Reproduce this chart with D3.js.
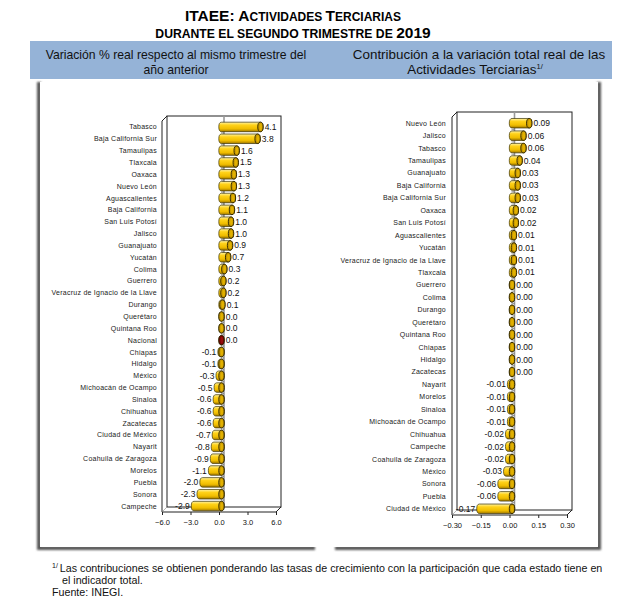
<!DOCTYPE html>
<html><head><meta charset="utf-8">
<script src="https://cdn.jsdelivr.net/npm/d3@7"></script>
<style>body{margin:0;background:#fff}svg{display:block;font-family:"Liberation Sans",Arial,sans-serif}</style>
</head><body><svg id="c" width="637" height="614"></svg>
<script>
const leftCats = ["Tabasco","Baja California Sur","Tamaulipas","Tlaxcala","Oaxaca","Nuevo León","Aguascalientes","Baja California","San Luis Potosí","Jalisco","Guanajuato","Yucatán","Colima","Guerrero","Veracruz de Ignacio de la Llave","Durango","Querétaro","Quintana Roo","Nacional","Chiapas","Hidalgo","México","Michoacán de Ocampo","Sinaloa","Chihuahua","Zacatecas","Ciudad de México","Nayarit","Coahuila de Zaragoza","Morelos","Puebla","Sonora","Campeche"];
const leftVals = [4.1,3.8,1.6,1.5,1.3,1.3,1.2,1.1,1.0,1.0,0.9,0.7,0.3,0.2,0.2,0.1,0.0,0.0,0.0,-0.1,-0.1,-0.3,-0.5,-0.6,-0.6,-0.6,-0.7,-0.8,-0.9,-1.1,-2.0,-2.3,-2.9];
const leftTicks = [-6,-3,0,3,6];

const rightCats = ["Nuevo León","Jalisco","Tabasco","Tamaulipas","Guanajuato","Baja California","Baja California Sur","Oaxaca","San Luis Potosí","Aguascalientes","Yucatán","Veracruz de Ignacio de la Llave","Tlaxcala","Guerrero","Colima","Durango","Querétaro","Quintana Roo","Chiapas","Hidalgo","Zacatecas","Nayarit","Morelos","Sinaloa","Michoacán de Ocampo","Chihuahua","Campeche","Coahuila de Zaragoza","México","Sonora","Puebla","Ciudad de México"];
const rightVals = [0.09,0.06,0.06,0.04,0.03,0.03,0.03,0.02,0.02,0.01,0.01,0.01,0.01,0.00,0.00,0.00,0.00,0.00,0.00,0.00,0.00,-0.01,-0.01,-0.01,-0.01,-0.02,-0.02,-0.02,-0.03,-0.06,-0.06,-0.17];
const rightTicks = [-0.30,-0.15,0.00,0.15,0.30];

const svg = d3.select("#c");
const defs = svg.append("defs");
function grad(id, stops){
  const g = defs.append("linearGradient").attr("id",id).attr("x1",0).attr("y1",0).attr("x2",0).attr("y2",1);
  stops.forEach(s=>g.append("stop").attr("offset",s[0]).attr("stop-color",s[1]));
}
grad("gy",[[0,"#fff4a8"],[0.3,"#ffd21a"],[0.7,"#f0bd00"],[1,"#a07800"]]);
grad("gr",[[0,"#d04040"],[0.4,"#9a0000"],[1,"#500000"]]);
defs.append("filter").attr("id","blur").append("feGaussianBlur").attr("stdDeviation",1.3);

// Title
const t1 = svg.append("text").attr("x",293).attr("y",21).attr("text-anchor","middle").attr("font-weight","bold").attr("fill","#000");
[["ITAEE: A",15.5],["CTIVIDADES ",12],["T",15.5],["ERCIARIAS",12]].forEach(p=>t1.append("tspan").attr("font-size",p[1]).text(p[0]));
const t2 = svg.append("text").attr("x",293).attr("y",38).attr("text-anchor","middle").attr("font-weight","bold").attr("fill","#000");
[["DURANTE EL SEGUNDO TRIMESTRE DE ",12.2],["2019",15.5]].forEach(p=>t2.append("tspan").attr("font-size",p[1]).text(p[0]));

// Header band
svg.append("rect").attr("x",30).attr("y",41).attr("width",582).attr("height",38).attr("fill","#95b3d7");
function ht(x,y,txt,fs){const t=svg.append("text").attr("x",x).attr("y",y).attr("font-size",fs).attr("fill","#111").attr("text-anchor","middle");t.text(txt);return t;}
ht(176,59,"Variación % real respecto al mismo trimestre del",12.2);
ht(176,74,"año anterior",12.2);
ht(479,59,"Contribución a la variación total real de las",13.4);
const h4 = ht(475,74,"Actividades Terciarias",13.4);
h4.append("tspan").attr("font-size",7.5).attr("dy",-5).text("1/");

// Panels with shadows
function panel(x,y,w,h,side){
  const sh = svg.append("g").attr("filter","url(#blur)");
  if(side==="left"){
    sh.append("rect").attr("x",x-3).attr("y",y).attr("width",4).attr("height",h+3).attr("fill","#555");
    sh.append("rect").attr("x",x-3).attr("y",y+h-1).attr("width",w).attr("height",4).attr("fill","#555");
  } else {
    sh.append("rect").attr("x",x+w-1).attr("y",y).attr("width",4).attr("height",h+3).attr("fill","#555");
    sh.append("rect").attr("x",x+3).attr("y",y+h-1).attr("width",w).attr("height",4).attr("fill","#555");
  }
  svg.append("rect").attr("x",x).attr("y",y).attr("width",w).attr("height",h).attr("fill","#fff");
}
panel(40,82,278,465,"left");
panel(332,82,266,465,"right");

function chart(cfg){
  const g = svg.append("g");
  const d = cfg.depth;
  const x = d3.scaleLinear().domain(cfg.domain).range(cfg.xr);
  const y = d3.scaleBand().domain(cfg.cats).range(cfg.yr).paddingInner(0).paddingOuter(0);
  const [x0,x1] = cfg.xr; const top = cfg.top, bot = cfg.yr[1];
  const ln = {stroke:"#222","stroke-width":1,fill:"none"};
  function line(pts,style){const p=g.append("path").attr("d",d3.line()(pts));Object.entries(style).forEach(([k,v])=>p.attr(k,v));}
  g.append("rect").attr("x",x0+d).attr("y",top).attr("width",x1-x0).attr("height",bot-d-top).attr("fill","#fff").attr("stroke","#222");
  line([[x0+d,top],[x0,top+d],[x0,bot],[x1,bot],[x1+d,bot-d]],ln);
  line([[x0,bot],[x0+d,bot-d]],{stroke:"#888","stroke-width":0.6,fill:"none"});
  line([[x(0)+d,top],[x(0)+d,bot-d]],{stroke:"#999","stroke-width":1.6,fill:"none"});
  cfg.cats.forEach((c,i)=>{ if(i>0){ g.append("line").attr("x1",x(0)+d-3).attr("x2",x(0)+d).attr("y1",y(c)).attr("y2",y(c)).attr("stroke","#666").attr("stroke-width",0.6);} });
  g.selectAll(".cl").data(cfg.cats).join("text")
    .attr("x",cfg.labelX).attr("y",c=>y(c)+y.bandwidth()/2+2.5)
    .attr("text-anchor","end").attr("font-size",7).attr("letter-spacing",0.25).attr("fill","#222").text(c=>c);
  const xa = g.append("g").attr("transform",`translate(0,${bot})`)
    .call(d3.axisBottom(x).tickValues(cfg.ticks).tickSize(3).tickFormat(cfg.tickFmt));
  xa.select(".domain").remove();
  xa.selectAll("line").attr("stroke","#222");
  xa.selectAll("text").attr("font-size",7.5).attr("fill","#111").attr("font-family","Liberation Sans, Arial").attr("dy","0.9em");
  const h = cfg.barH, rx = 2.7;
  cfg.cats.forEach((c,i)=>{
    const v = cfg.vals[i];
    const cy = y(c)+y.bandwidth()/2;
    const xa0 = x(Math.min(0,v))+d/2, xa1 = x(Math.max(0,v))+d/2;
    const fill = c==="Nacional" ? "url(#gr)" : "url(#gy)";
    const capFill = c==="Nacional" ? "#7a0000" : "#c99a00";
    const bodyPath = `M${xa0},${cy-h/2} L${xa1},${cy-h/2} A${rx},${h/2} 0 0 1 ${xa1},${cy+h/2} L${xa0},${cy+h/2} A${rx},${h/2} 0 0 1 ${xa0},${cy-h/2} Z`;
    g.append("path").attr("d",bodyPath).attr("fill",fill).attr("stroke","#3a3000").attr("stroke-width",0.7);
    g.append("ellipse").attr("cx",xa1).attr("cy",cy).attr("rx",rx).attr("ry",h/2).attr("fill",capFill).attr("stroke","#2a2200").attr("stroke-width",0.9);
    g.append("ellipse").attr("cx",xa1+0.3).attr("cy",cy).attr("rx",rx*0.45).attr("ry",h/2*0.7).attr("fill", c==="Nacional"?"#a01010":"#e8b800").attr("opacity",0.8);
    const neg = v<0;
    g.append("text").attr("x", neg ? xa0-rx-1.5 : xa1+rx+1.5).attr("y",cy+3)
      .attr("text-anchor",neg?"end":"start").attr("font-size",8.5).attr("fill","#111").text(cfg.fmt(v));
  });
}

chart({cats:leftCats, vals:leftVals, domain:[-6,6], xr:[162,276], yr:[121,512], top:116, depth:5,
  ticks:leftTicks, tickFmt:d3.format(".1f"), fmt:v=>v.toFixed(1), labelX:157, barH:9.5});
chart({cats:rightCats, vals:rightVals, domain:[-0.3,0.3], xr:[452,567], yr:[117,515], top:112, depth:5,
  ticks:rightTicks, tickFmt:d3.format(".2f"), fmt:v=>v.toFixed(2), labelX:446, barH:9.5});

// Footnote
const f1 = svg.append("text").attr("x",52).attr("y",572).attr("font-size",10.7).attr("fill","#111");
f1.append("tspan").attr("font-size",7).attr("dy",-4).text("1/");
f1.append("tspan").attr("dy",4).attr("dx",2).text("Las contribuciones se obtienen ponderando las tasas de crecimiento con la participación que cada estado tiene en");
svg.append("text").attr("x",62).attr("y",584).attr("font-size",10.7).attr("fill","#111").text("el indicador total.");
svg.append("text").attr("x",52).attr("y",596).attr("font-size",10.7).attr("fill","#111").text("Fuente: INEGI.");
</script></body></html>
